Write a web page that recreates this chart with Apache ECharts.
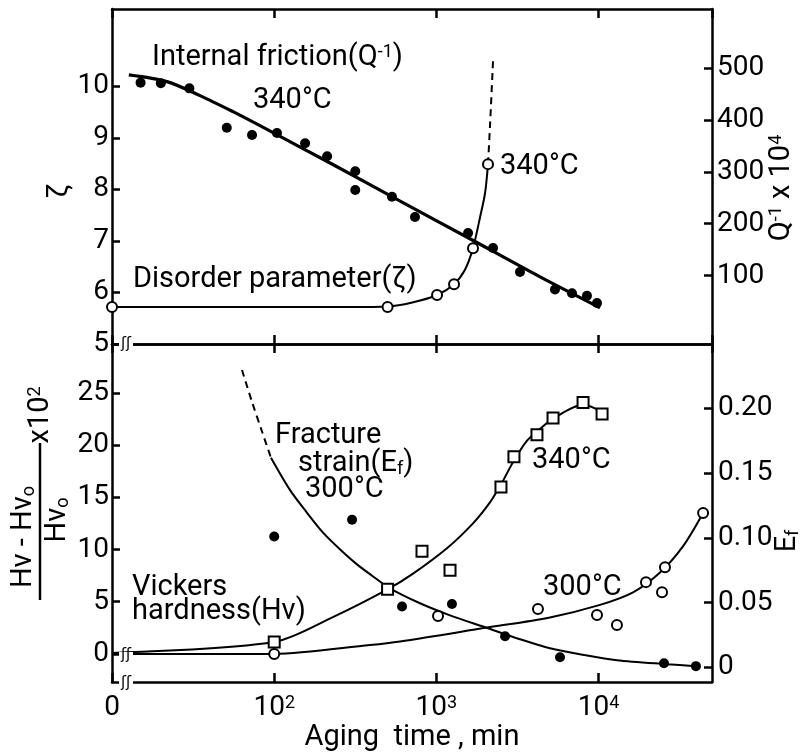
<!DOCTYPE html>
<html>
<head>
<meta charset="utf-8">
<title>Aging time</title>
<script src="https://cdn.jsdelivr.net/npm/echarts@6/dist/echarts.min.js"></script>
<style>
  html, body { margin: 0; padding: 0; background: #fff; }
  #chart { width: 805px; height: 753px; }
</style>
</head>
<body>
<div id="chart"></div>
<script>
// aging time in min; 10 stands for t = 0 on the broken log axis
const FONT = 'Roboto, "DejaVu Sans", sans-serif';

// top panel: internal friction Q^-1 x 10^4 (right axis), 340 C
const friction340 = [[15, 472], [20, 471], [30, 461], [51, 385], [73, 371], [104, 375], [155, 355],
  [212, 330], [316, 301], [316, 265], [532, 252], [738, 213], [1567, 182], [2234, 153],
  [3275, 107], [5382, 73], [6852, 66], [8476, 61], [9772, 47]];
const frictionFit = [[12.7, 487], [21.8, 474], [34.9, 447], [55.7, 416], [81.7, 389], [221, 317],
  [594, 244], [1610, 171], [4355, 97.5], [10200, 38]];

// top panel: disorder parameter zeta (left axis), 340 C
const disorder340 = [[10, 5.72], [500, 5.72], [1009, 5.95], [1284, 6.16], [1681, 6.86], [2080, 8.49]];
const disorderFit = [[10, 5.72], [300, 5.72], [500, 5.73], [700, 5.8], [1009, 5.95], [1284, 6.16],
  [1500, 6.44], [1681, 6.86], [1858, 7.46], [1995, 7.93], [2080, 8.49]];
const disorderDash = [[2080, 8.49], [2138, 9.21], [2234, 10.5]];

// bottom panel: Vickers hardness (Hv-Hvo)/Hvo x 10^2 (left axis)
const hv340 = [[100, 1.15], [500, 6.2], [815, 9.84], [1213, 8.02], [2500, 16.0], [3006, 18.9],
  [4168, 21.0], [5235, 22.6], [8017, 24.1], [10500, 23.0]];
const hv340Fit = [[10, 0.1], [100, 1.15], [230, 3.53], [503, 6.21], [718, 7.69], [1161, 10.12],
  [1681, 12.51], [2138, 14.52], [2500, 16.24], [3006, 18.53], [3620, 20.44], [4168, 21.3],
  [5235, 22.54], [8017, 23.88], [10500, 23.2]];
const hv300 = [[100, 0], [1023, 3.63], [4227, 4.3], [9772, 3.72], [12970, 2.77], [19590, 6.88],
  [24590, 5.92], [25650, 8.31], [44060, 13.5]];
const hv300Fit = [[10, 0], [100, 0], [390, 0.86], [597, 1.2], [1995, 2.5], [5012, 3.5],
  [10200, 4.7], [16300, 5.9], [23900, 7.8], [33100, 10.3], [44060, 13.5]];

// bottom panel: fracture strain Ef (right axis), 300 C
const ef300 = [[100, 0.101], [302, 0.114], [614, 0.047], [1247, 0.049], [2650, 0.024],
  [5780, 0.0079], [25300, 0.0033], [39800, 0.001]];
const ef300Dash = [[63.3, 0.2295], [72.9, 0.205], [84.1, 0.182], [95.5, 0.1618]];
const ef300Fit = [[95.5, 0.1618], [125, 0.137], [159, 0.1195], [200, 0.104], [255, 0.091],
  [324, 0.0795], [407, 0.0702], [517, 0.061], [792, 0.0495], [1213, 0.0402], [1995, 0.031],
  [3275, 0.0218], [5012, 0.0148], [8240, 0.0095], [12970, 0.0056], [26400, 0.0025], [39800, 0.001]];

// tick labels
const zetaTicks = [5, 6, 7, 8, 9, 10];
const qTicks = [100, 200, 300, 400, 500];
const hvTicks = [0, 5, 10, 15, 20, 25];
const efTicks = [0, 0.05, 0.10, 0.15, 0.20];

const black = '#000';
const fs = 28;
const txt = { fontSize: fs, fontFamily: FONT, color: black };
const big = { fontSize: 29, fontFamily: FONT, color: black };
const sup = { fontSize: 18, fontFamily: FONT, color: black, verticalAlign: 'top' };
const sub = { fontSize: 18, fontFamily: FONT, color: black, verticalAlign: 'bottom' };

function timeAxis (grid, pos, showLabel) {
  return {
    type: 'log',
    logBase: 10,
    gridIndex: grid,
    position: pos,
    min: 10,
    max: 50000,
    axisLine: { show: true, onZero: false, lineStyle: { color: black, width: 2.5 } },
    axisTick: { show: true, inside: true, length: 9, lineStyle: { color: black, width: 2.5 } },
    axisLabel: {
      show: showLabel,
      margin: 12,
      showMaxLabel: false,
      formatter: function (v) {
        if (v <= 10) return '{n|0}';
        return '{n|10}{p|' + Math.round(Math.log10(v)) + '}';
      },
      rich: { n: txt, p: sup }
    },
    splitLine: { show: false },
    minorTick: { show: false }
  };
}

function valueAxis (grid, pos, min, max, ticks, fmt, margin) {
  return {
    type: 'value',
    gridIndex: grid,
    position: pos,
    min: min,
    max: max,
    axisLine: { show: true, onZero: false, lineStyle: { color: black, width: 2.5 } },
    axisTick: { show: true, inside: true, length: 8, customValues: ticks, lineStyle: { color: black, width: 2.5 } },
    axisLabel: { customValues: ticks, margin: margin, formatter: fmt, fontSize: fs, fontFamily: FONT, color: black },
    splitLine: { show: false }
  };
}

function text (x, y, s, rot, align) {
  return {
    type: 'text',
    x: x,
    y: y,
    rotation: rot || 0,
    z: 100,
    style: {
      text: s,
      fill: black,
      font: '29px ' + FONT,
      textAlign: align || 'left',
      textVerticalAlign: 'middle',
      rich: { t: big, s: sup, b: sub }
    }
  };
}

function brk (x, y) {
  return [
    { type: 'rect', z: 100, shape: { x: x - 7, y: y - 3, width: 14, height: 6 }, style: { fill: '#fff' } },
    { type: 'text', z: 101, x: x, y: y, style: { text: 'ʃʃ', fill: black, font: '15px "DejaVu Sans"', textAlign: 'center', textVerticalAlign: 'middle' } }
  ];
}

function lineSeries (x, y, data, width, dashed) {
  return {
    type: 'line',
    xAxisIndex: x,
    yAxisIndex: y,
    data: data,
    symbol: 'none',
    smooth: 0.3,
    lineStyle: { color: black, width: width, type: dashed ? [7, 5] : 'solid' },
    z: 2
  };
}

function dots (x, y, data, shape, open) {
  return {
    type: 'scatter',
    xAxisIndex: x,
    yAxisIndex: y,
    data: data,
    symbol: shape,
    symbolSize: shape === 'rect' ? 11 : 10,
    itemStyle: open
      ? { color: '#fff', borderColor: black, borderWidth: 2, opacity: 1 }
      : { color: black, opacity: 1 },
    z: 3
  };
}

const chart = echarts.init(document.getElementById('chart'));
chart.setOption({
  animation: false,
  backgroundColor: '#fff',
  grid: [
    { left: 112, top: 9, width: 600, height: 335 },
    { left: 112, top: 344, width: 600, height: 339 }
  ],
  xAxis: [
    timeAxis(0, 'bottom', false),
    timeAxis(0, 'top', false),
    Object.assign(timeAxis(1, 'bottom', true), {
      name: 'Aging  time , min',
      nameLocation: 'middle',
      nameGap: 38,
      nameTextStyle: big
    }),
    timeAxis(1, 'top', false)
  ],
  yAxis: [
    valueAxis(0, 'left', 5, 11.5, zetaTicks, v => String(v), 3),
    valueAxis(0, 'right', -32, 614, qTicks, v => String(v), 5),
    valueAxis(1, 'left', -2.7, 29.7, hvTicks, v => String(v), 3),
    valueAxis(1, 'right', -0.0113, 0.2495, efTicks, v => (v === 0 ? '0' : v.toFixed(2)), 6)
  ],
  series: [
    lineSeries(0, 1, frictionFit, 3.2),
    lineSeries(0, 0, disorderFit, 2),
    lineSeries(0, 0, disorderDash, 2, true),
    lineSeries(2, 2, hv340Fit, 2),
    lineSeries(2, 2, hv300Fit, 2),
    lineSeries(2, 3, ef300Fit, 2),
    lineSeries(2, 3, ef300Dash, 2, true),
    dots(0, 1, friction340, 'circle', false),
    dots(0, 0, disorder340, 'circle', true),
    dots(2, 2, hv340, 'rect', true),
    dots(2, 2, hv300, 'circle', true),
    dots(2, 3, ef300, 'circle', false)
  ],
  graphic: [
    text(152, 58, '{t|Internal friction(Q}{s|-1}{t|)}'),
    text(253, 101, '340°C'),
    text(500, 167, '340°C'),
    text(133, 280, 'Disorder parameter(ζ)'),
    text(275, 436, 'Fracture'),
    text(298, 464, '{t|strain(E}{b|f}{t|)}'),
    text(305, 490, '300°C'),
    text(532, 461, '340°C'),
    text(543, 588, '300°C'),
    text(132, 588, 'Vickers'),
    text(132, 612, 'hardness(Hv)'),
    // axis titles
    text(60, 191, 'ζ', Math.PI / 2, 'center'),
    text(782, 188, '{t|Q}{s|-1}{t| x 10}{s|4}', Math.PI / 2, 'center'),
    text(788, 541, '{t|E}{b|f}', Math.PI / 2, 'center'),
    text(24, 537, '{t|Hv - Hv}{b|o}', Math.PI / 2, 'center'),
    text(58, 520, '{t|Hv}{b|o}', Math.PI / 2, 'center'),
    text(41, 415, '{t|x10}{s|2}', Math.PI / 2, 'center'),
    { type: 'line', z: 100, shape: { x1: 40, y1: 443, x2: 40, y2: 600 }, style: { stroke: black, lineWidth: 2.5 } }
  ].concat(brk(126, 344), brk(126, 655), brk(126, 683))
});
</script>
</body>
</html>
